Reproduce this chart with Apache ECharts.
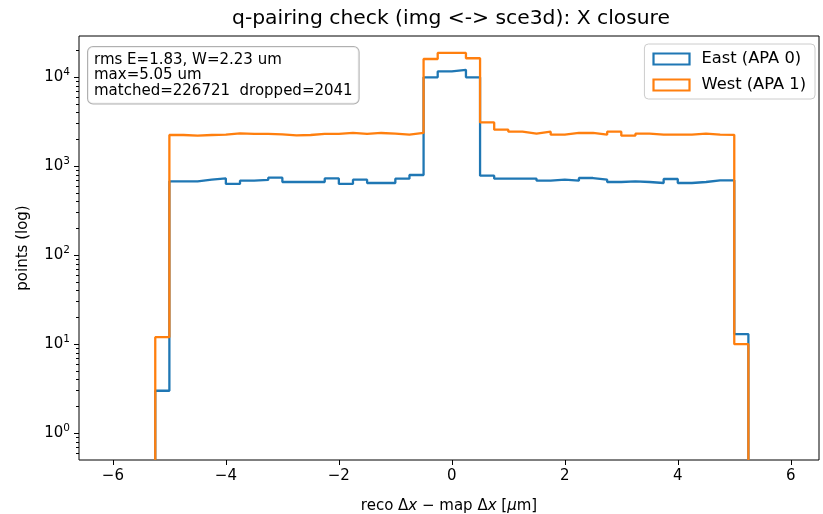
<!DOCTYPE html>
<html>
<head>
<meta charset="utf-8">
<script src="https://cdn.jsdelivr.net/npm/echarts@6/dist/echarts.min.js"></script>
<style>
  html, body { margin: 0; padding: 0; background: #fff; }
  #chart { width: 823px; height: 514px; }
</style>
</head>
<body>
<div id="chart"></div>
<script>
// histogram bins: width 0.25, first edge at -5.25
var binStart = -5.25;
var binWidth = 0.25;

// counts per bin
var eastCounts = [
    3,
    675, 675, 705, 729, 631, 687, 700, 743, 664, 664, 664, 729, 631, 705, 647, 647, 724, 796,
    9950, 11600, 12100, 9950,
    782, 724, 724, 724, 687, 705, 687, 736, 705, 664, 675, 664, 647, 718, 647, 664, 694, 694,
    13
];
var westCounts = [
    12,
    2240, 2200, 2240, 2260, 2340, 2300, 2300, 2280, 2220, 2240, 2300, 2300, 2360, 2300, 2360, 2320, 2260, 2360,
    16000, 18700, 18700, 16300,
    3100, 2570, 2440, 2320, 2440, 2260, 2360, 2360, 2260, 2440, 2200, 2320, 2260, 2260, 2260, 2320, 2260, 2250,
    10
];

var seriesNames = ["East (APA 0)", "West (APA 1)"];
var xTicks = [-6, -4, -2, 0, 2, 4, 6];
var yTicks = [1, 10, 100, 1000, 10000];
var yMin = 0.5, yMax = 29000;

var statsLines = [
    "rms E=1.83, W=2.23 um",
    "max=5.05 um",
    "matched=226721  dropped=2041"
];

var font = "DejaVu Sans";

// minor ticks of the log axis (2..9 in every decade)
var yMinor = [];
for (var d = -1; d <= 4; d++) {
    for (var m = 2; m <= 9; m++) {
        var t = m * Math.pow(10, d);
        if (t > yMin && t < yMax) yMinor.push(+t.toPrecision(3));
    }
}

// step outline like matplotlib histtype='step'
function stepPoints(counts) {
    var pts = [[binStart, yMin]];
    for (var i = 0; i < counts.length; i++) {
        pts.push([binStart + i * binWidth, counts[i]]);
    }
    var lastEdge = binStart + counts.length * binWidth;
    pts.push([lastEdge, counts[counts.length - 1]]);
    pts.push([lastEdge, yMin]);
    return pts;
}

var myChart = echarts.init(document.getElementById("chart"));

var option = {
    animation: false,
    backgroundColor: "#fff",
    textStyle: { fontFamily: font },
    title: {
        text: "q-pairing check (img <-> sce3d): X closure",
        left: 446,
        textAlign: "center",
        top: 4,
        textStyle: { fontFamily: font, fontSize: 20.3, fontWeight: "normal", color: "#000" }
    },
    grid: {
        left: 79, right: 4, top: 36, bottom: 54,
        outerBoundsMode: "none",
        show: true, borderColor: "#000", borderWidth: 1
    },
    legend: {
        orient: "vertical",
        right: 8,
        top: 44,
        itemWidth: 36,
        itemHeight: 11,
        itemGap: 10,
        padding: [7, 9, 6, 8],
        backgroundColor: "rgba(255,255,255,0.8)",
        borderColor: "#cccccc",
        borderWidth: 1,
        borderRadius: 4,
        textStyle: { fontFamily: font, fontSize: 16.3, color: "#000", padding: [0, 0, 0, 7] },
        data: [
            { name: seriesNames[0], icon: "rect",
              itemStyle: { color: "rgba(0,0,0,0)", borderColor: "#1f77b4", borderWidth: 2.2 } },
            { name: seriesNames[1], icon: "rect",
              itemStyle: { color: "rgba(0,0,0,0)", borderColor: "#ff7f0e", borderWidth: 2.2 } }
        ]
    },
    graphic: [{
        type: "text",
        left: 87,
        top: 46,
        z: 100,
        style: {
            text: statsLines.join("\n"),
            font: "15px " + font,
            fill: "#000",
            lineHeight: 15.5,
            backgroundColor: "rgba(255,255,255,0.8)",
            borderColor: "#b0b0b0",
            borderWidth: 1,
            borderRadius: 5,
            padding: [5, 6, 5, 6]
        }
    }],
    xAxis: {
        type: "value",
        min: -6.6,
        max: 6.5,
        name: "reco Δ{i|x} − map Δ{i|x} [{i|μ}m]",
        nameLocation: "middle",
        nameGap: 39,
        nameTextStyle: {
            fontFamily: font, fontSize: 15, color: "#000",
            rich: { i: { fontFamily: font, fontSize: 15, fontStyle: "italic", color: "#000" } }
        },
        axisLine: { show: false, onZero: false },
        axisTick: { show: true, length: 5, lineStyle: { color: "#000", width: 1 }, customValues: xTicks },
        axisLabel: {
            customValues: xTicks,
            margin: 9,
            fontFamily: font, fontSize: 15, color: "#000",
            formatter: function (v) { return String(v).replace("-", "\u2212"); }
        },
        splitLine: { show: false }
    },
    yAxis: [{
        type: "log",
        logBase: 10,
        min: yMin,
        max: yMax,
        name: "points (log)",
        nameLocation: "middle",
        nameGap: 48,
        nameTextStyle: { fontFamily: font, fontSize: 15, color: "#000" },
        axisLine: { show: false, onZero: false },
        axisTick: { show: true, length: 5, lineStyle: { color: "#000", width: 1 }, customValues: yTicks },
        axisLabel: {
            customValues: yTicks,
            margin: 9,
            color: "#000",
            formatter: function (v) {
                return "{b|10}{sup|" + Math.round(Math.log10(v)) + "}";
            },
            rich: {
                b: { fontFamily: font, fontSize: 15, lineHeight: 20, color: "#000" },
                sup: { fontFamily: font, fontSize: 10.5, lineHeight: 10, verticalAlign: "top", color: "#000" }
            }
        },
        splitLine: { show: false }
    }, {
        type: "log",
        logBase: 10,
        min: yMin,
        max: yMax,
        position: "left",
        axisLine: { show: false, onZero: false },
        axisTick: { show: true, length: 3, lineStyle: { color: "#000", width: 1 }, customValues: yMinor },
        axisLabel: { show: false },
        splitLine: { show: false }
    }],
    series: [{
        name: seriesNames[0],
        type: "line",
        step: "end",
        showSymbol: false,
        symbol: "none",
        data: stepPoints(eastCounts),
        lineStyle: { color: "#1f77b4", width: 2.3 },
        itemStyle: { color: "#1f77b4" },
        clip: true
    }, {
        name: seriesNames[1],
        type: "line",
        step: "end",
        showSymbol: false,
        symbol: "none",
        data: stepPoints(westCounts),
        lineStyle: { color: "#ff7f0e", width: 2.3 },
        itemStyle: { color: "#ff7f0e" },
        clip: true
    }]
};

myChart.setOption(option);
</script>
</body>
</html>
